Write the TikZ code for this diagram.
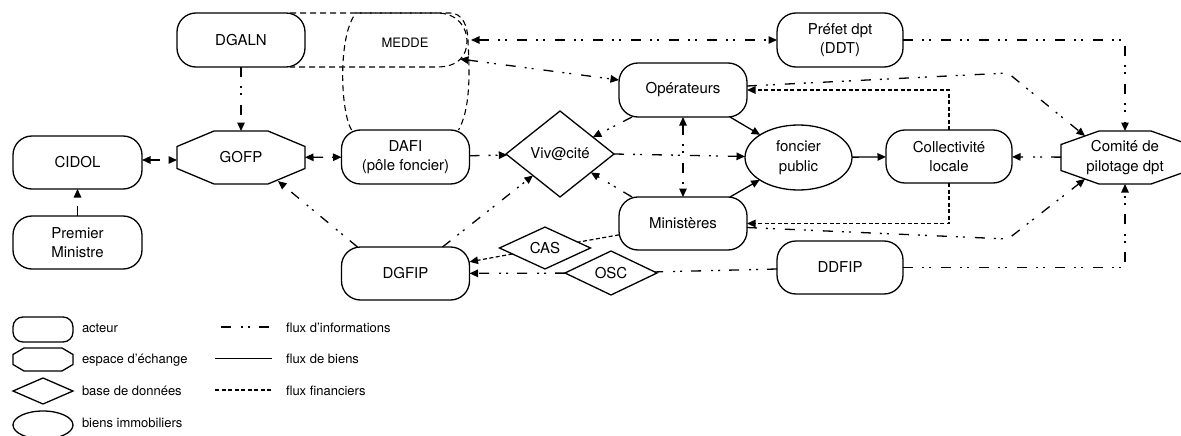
\documentclass[tikz,border=0pt]{standalone}
\usepackage{fontspec}
\setmainfont{TeX Gyre Heros}
\usetikzlibrary{shapes.geometric,arrows.meta,calc}
\begin{document}
\begin{tikzpicture}[x=1pt,y=-1pt,
  every node/.style={outer sep=0pt, inner sep=0pt},
  >={Triangle[length=8.5pt,width=7.5pt]},
  mainfont/.style={font=\fontsize{15}{19.5}\selectfont},
  actor/.style={draw, line width=1.3pt, rounded corners=19pt, minimum width=128pt, minimum height=54pt, align=center, mainfont, fill=white},
  oct/.style={minimum width=128pt, minimum height=53pt, align=center, mainfont},
  db/.style={draw, line width=1.3pt, diamond, align=center, mainfont, fill=white},
  bien/.style={draw, line width=1.3pt, ellipse, minimum width=107pt, minimum height=65pt, align=center, mainfont, fill=white},
  shp/.style={draw, line width=1.3pt, fill=white},
  info/.style={line width=1.3pt, dash pattern=on 10pt off 9pt on 2pt off 5pt on 2pt off 10pt},
  goods/.style={line width=1.3pt},
  fin/.style={line width=1.2pt, dash pattern=on 4pt off 2.5pt},
  meddeline/.style={line width=1.1pt, dash pattern=on 6pt off 4pt},
  leg/.style={font=\fontsize{13}{16}\selectfont, anchor=base west}
]
\clip (0,0) rectangle (1181,436);
% ---------- nodes ----------
\node[actor] (dgaln) at (241,40) {DGALN};
\node[actor, minimum width=129pt, minimum height=53pt] (cidol) at (77.5,162.5) {CIDOL};
\node[actor, minimum width=129pt, minimum height=53pt] (pm) at (77.5,242.5) {Premier\\Ministre};
\node[oct] (gofp) at (241,157.5) {};
\node[actor] (dafi) at (405.5,157) {DAFI\\(pôle foncier)};
\node[actor, minimum height=53pt] (dgfip) at (405.5,273.5) {DGFIP};
\node[db, minimum width=108pt, minimum height=86pt] (viv) at (560,154) {Viv@cité};
\node[actor, minimum width=126pt] (pref) at (840,40) {Préfet dpt\\(DDT)};
\node[actor] (ops) at (683,90) {Opérateurs};
\node[actor, minimum height=53pt] (min) at (683,223.5) {Ministères};
\node[bien] (fon) at (798.5,157.5) {foncier\\public};
\node[actor, minimum width=126pt, minimum height=53pt] (col) at (949,156.5) {Collectivité\\locale};
\node[oct] (com) at (1125,157.5) {};
\node[actor, minimum width=126pt, minimum height=53pt] (ddfip) at (840,267.5) {DDFIP};
\node[db, minimum width=91pt, minimum height=40pt] (cas) at (545,248) {CAS};
\node[db, minimum width=92pt, minimum height=40pt] (osc) at (611,273) {OSC};
% octagons
\draw[shp] (gofp.west) ++(0,-11) -- ++(37,-15.5) -- ++(54,0) -- ++(37,15.5) -- ++(0,22) -- ++(-37,15.5) -- ++(-54,0) -- ++(-37,-15.5) -- cycle;
\node[mainfont] at (gofp) {GOFP};
\draw[shp] (com.west) ++(0,-13) -- ++(38,-13.5) -- ++(52,0) -- ++(38,13.5) -- ++(0,26) -- ++(-38,13.5) -- ++(-52,0) -- ++(-38,-13.5) -- cycle;
\node[mainfont, align=center] at (com) {Comité de\\pilotage dpt};
% MEDDE dashed outlines
\draw[meddeline] ([xshift=-15pt]dgaln.north east) -- (437,13) .. controls (458,13) and (467,28) .. (467,41) .. controls (467,56) and (458,67) .. (437,67) -- ([xshift=-15pt]dgaln.south east);
\draw[meddeline] ([xshift=10pt]dafi.north west) .. controls (340,110) and (338,35) .. (356,13) -- (450,13) .. controls (462,13) and (468,25) .. (468,42) .. controls (470,75) and (470,110) .. ([xshift=-11pt]dafi.north east);
\node[font=\fontsize{13}{16}\selectfont] (medde) at (405,43) {MEDDE};
% ---------- connectors ----------
\draw[info,->] (dgaln) -- (gofp);
\draw[info,<->] ([yshift=2.5pt]cidol.east) -- ([yshift=-2.5pt]gofp.west);
\draw[info,->] (pm) -- (cidol);
\draw[info,<->] (gofp) -- (dafi);
\coordinate (gofpBR) at ($(gofp.south east)+(-27,-3)$);
\draw[info,->] ([xshift=-48pt]dgfip.north) -- (gofpBR);
\draw[info,->] (dafi) -- (viv);
\draw[info,->] ([xshift=37pt]dgfip.north) -- (viv.south west);
\draw[info,->] ([xshift=13pt]ops.south west) -- (viv);
\draw[info,->] ([xshift=13pt]min.north west) -- (viv);
\draw[info,->] (viv.east) -- (fon);
\draw[info,<->] (ops) -- (min);
\draw[goods,->] ([xshift=-17pt]ops.south east) -- (fon);
\draw[goods,->] ([xshift=-17pt]min.north east) -- (fon);
\draw[goods,->] (fon) -- (col);
\draw[fin,->] (col.north) |- (ops.east);
\draw[fin,->] (col.south) |- (min.east);
\draw[info,->] (com) -- (col);
\draw[info,->] (pref.east) -| (com.north);
\draw[info,->] (ddfip.east) -| (com.south);
\coordinate (k1) at (1008,73);
\coordinate (k2) at (1008,239);
\coordinate (comUL) at ($(com.north west)+(24,5)$);
\coordinate (comLL) at ($(com.south west)+(24,-5)$);
\draw[info,->] ([yshift=4pt]ops.east) -- (k1) -- (comUL);
\draw[info,->] ([yshift=-4pt]min.east) -- (k2) -- (comLL);
\coordinate (medE) at (471,40);
\coordinate (medSE) at (460,59);
\draw[info,<->] (medE) -- (pref.west);
\draw[info,<->] (medSE) -- ([yshift=10pt]ops.west);
\draw[fin] (min) -- (cas);
\draw[fin,->] (cas) -- (dgfip);
\draw[info] (ddfip) -- (osc);
\draw[info,->] (osc) -- (dgfip);
% ---------- legend ----------
\node[actor, minimum width=60pt, minimum height=25pt, rounded corners=10pt] (l1) at (43,329.5) {};
\node[minimum width=60pt, minimum height=23pt] (l2) at (43,359.5) {};
\draw[shp] (l2.west) ++(0,-5) -- ++(11,-6.5) -- ++(38,0) -- ++(11,6.5) -- ++(0,10) -- ++(-11,6.5) -- ++(-38,0) -- ++(-11,-6.5) -- cycle;
\node[db, minimum width=60pt, minimum height=26pt] (l3) at (43,391) {};
\node[bien, minimum width=60pt, minimum height=28pt] (l4) at (43,425) {};
\node[leg] (t1) at (82,332.7) {acteur};
\node[leg] (t2) at (82,363) {espace d'échange};
\node[leg] (t3) at (82,395) {base de données};
\node[leg] (t4) at (82,427) {biens immobiliers};
\coordinate (a1) at (212,327); \coordinate (a2) at (269,327);
\coordinate (b1) at (215,358.5); \coordinate (b2) at (272,358.5);
\coordinate (c1) at (215,390); \coordinate (c2) at (272,390);
\draw[info] (a2) -- (a1);
\draw[goods] (b1) -- (b2);
\draw[fin] (c1) -- (c2);
\node[leg] (t5) at (286,332) {flux d'informations};
\node[leg] (t6) at (286,363) {flux de biens};
\node[leg] (t7) at (286,395) {flux financiers};
\end{tikzpicture}
\end{document}
